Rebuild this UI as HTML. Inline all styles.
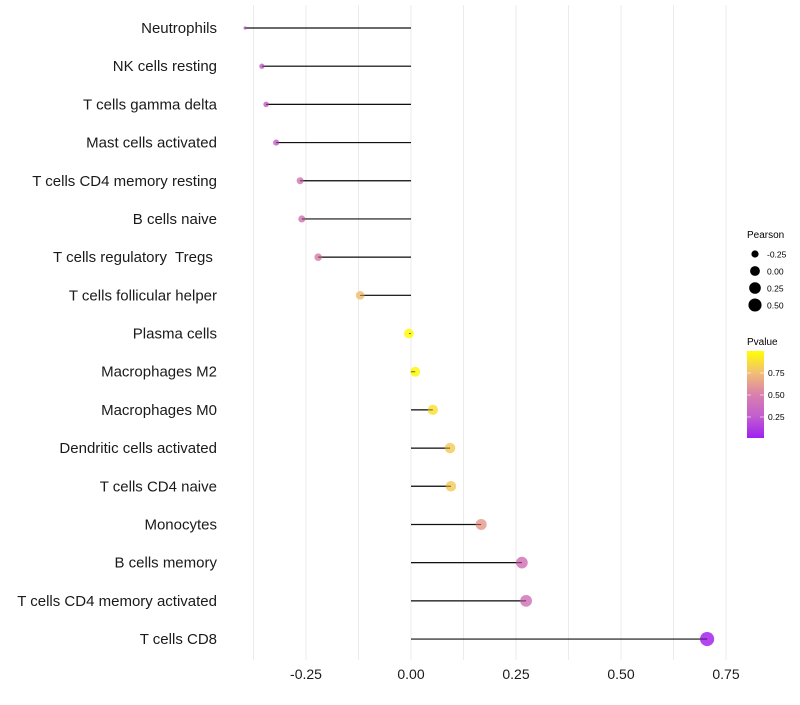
<!DOCTYPE html>
<html><head><meta charset="utf-8"><style>
body{margin:0;background:#fff;font-family:"Liberation Sans",sans-serif}
text{white-space:pre}
</style></head><body>
<svg id="chart" width="800" height="700" xmlns="http://www.w3.org/2000/svg">
<defs><linearGradient id="pg" x1="0" y1="1" x2="0" y2="0">
<stop offset="0" stop-color="#A020F0"/><stop offset="0.25" stop-color="#C25ECF"/><stop offset="0.5" stop-color="#DA80AC"/><stop offset="0.75" stop-color="#F2BE74"/><stop offset="1" stop-color="#FFFF00"/>
</linearGradient></defs>
<g id="grid"></g>
<g id="marks"></g>
<g id="ylabels"></g>
<g id="xlabels"></g>
<g font-size="10" fill="#000">
<text x="747" y="238">Pearson</text>
<g id="sizeLegend"></g>
<text x="747" y="345">Pvalue</text>
<rect x="747" y="351" width="17" height="87" fill="url(#pg)"/>
<g id="colorTicks"></g>
</g>
</svg>
<script>
const categories=["Neutrophils","NK cells resting","T cells gamma delta","Mast cells activated","T cells CD4 memory resting","B cells naive","T cells regulatory  Tregs ","T cells follicular helper","Plasma cells","Macrophages M2","Macrophages M0","Dendritic cells activated","T cells CD4 naive","Monocytes","B cells memory","T cells CD4 memory activated","T cells CD8"];
const pearson=[-0.395,-0.355,-0.345,-0.321,-0.264,-0.26,-0.221,-0.121,-0.005,0.01,0.052,0.093,0.095,0.167,0.264,0.274,0.705];
const pvalue=[0.25,0.3,0.3,0.3,0.45,0.45,0.5,0.75,0.98,0.97,0.88,0.8,0.8,0.62,0.42,0.42,0.02];
const xTicks=[-0.25,0,0.25,0.5,0.75];
const xTickLabels=["-0.25","0.00","0.25","0.50","0.75"];
const sizeLegendValues=[-0.25,0,0.25,0.5];
const sizeLegendLabels=["-0.25","0.00","0.25","0.50"];
const colorTicks=[0.75,0.5,0.25];
const colorTickLabels=["0.75","0.50","0.25"];

const NS="http://www.w3.org/2000/svg";
const x=v=>411+v*420;
const y=i=>28+i*38.19;
const pMin=Math.min(...pearson),pMax=Math.max(...pearson);
const r=v=>1.6+5.5*Math.sqrt(Math.max(0,(v-pMin)/(pMax-pMin)));
const cy=p=>438-(p-0.011)/(0.989)*87;
const stops=[[0,[160,32,240]],[0.25,[194,94,207]],[0.5,[218,128,172]],[0.75,[242,190,116]],[1,[255,255,0]]];
function col(p){for(let k=1;k<stops.length;k++){if(p<=stops[k][0]){const a=stops[k-1],b=stops[k],t=(p-a[0])/(b[0]-a[0]);return "rgb("+a[1].map((c,j)=>Math.round(c+(b[1][j]-c)*t)).join(",")+")";}}return "rgb(255,255,0)";}
function mk(tag,at,parent){const e=document.createElementNS(NS,tag);for(const k in at)e.setAttribute(k,at[k]);parent.appendChild(e);return e;}
const G=document.getElementById("grid"),M=document.getElementById("marks"),YL=document.getElementById("ylabels"),XL=document.getElementById("xlabels");
for(let v=-0.375;v<=0.76;v+=0.125){
 const l=mk("line",{x1:x(v),x2:x(v),y1:5,y2:660,stroke:"#ebebeb","stroke-width":1},G);
 
 
}
xTicks.forEach((v,i)=>{
 const t=mk("text",{x:x(v),y:679,"text-anchor":"middle","font-size":14,fill:"#1a1a1a"},XL);t.textContent=xTickLabels[i];
 
 
});
categories.forEach((c,i)=>{
 const t=mk("text",{x:217,y:y(i)+5,"text-anchor":"end","font-size":15,fill:"#1a1a1a"},YL);t.textContent=c;
 
 
 const l=mk("line",{x1:x(0),x2:x(pearson[i]),y1:y(i),y2:y(i),stroke:"#111","stroke-width":1.2},M);
 
 
 const d=mk("circle",{cx:x(pearson[i]),cy:y(i),r:r(pearson[i]),fill:col(pvalue[i]),"fill-opacity":0.85},M);
 
 
 const l2=mk("line",{x1:x(0),x2:x(pearson[i]),y1:y(i),y2:y(i),stroke:"#111","stroke-width":1,"stroke-opacity":0.5},M);
 
 
});
const SL=document.getElementById("sizeLegend");
sizeLegendValues.forEach((v,i)=>{
 const yy=254+i*17;
 const c=mk("circle",{cx:755,cy:yy,r:r(v),fill:"#000"},SL);
 
 
 const t=mk("text",{x:767,y:yy+3.5,"font-size":8.5},SL);t.textContent=sizeLegendLabels[i];
 
 
});
const CT=document.getElementById("colorTicks");
colorTicks.forEach((v,i)=>{
 const yy=cy(v);
 const l=mk("line",{x1:747,x2:751,y1:yy,y2:yy,stroke:"#fff","stroke-opacity":0.6},CT);
 
 
 const l2=mk("line",{x1:760,x2:764,y1:yy,y2:yy,stroke:"#fff","stroke-opacity":0.6},CT);
 
 
 const t=mk("text",{x:768,y:yy+3,"font-size":8.5},CT);t.textContent=colorTickLabels[i];
 
 
});
</script>
</body></html>
